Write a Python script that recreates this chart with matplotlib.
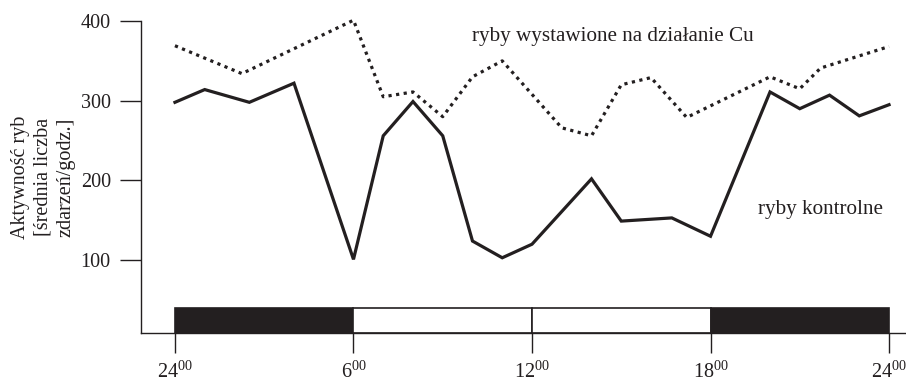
import matplotlib
matplotlib.use('Agg')
import matplotlib.pyplot as plt

plt.rcParams['font.family'] = ['Liberation Serif', 'DejaVu Serif']
plt.rcParams['mathtext.fontset'] = 'custom'
plt.rcParams['mathtext.rm'] = 'Liberation Serif'
plt.rcParams['mathtext.default'] = 'regular'

# godziny i aktywność (średnia liczba zdarzeń/godz.)
control_hours = [0, 1, 2.5, 4, 6, 7, 8, 9, 10, 11, 12, 14, 15, 16.7, 18, 20, 21, 22, 23, 24]
control_values = [298, 314, 298, 322, 101, 256, 299, 256, 124, 103, 120, 202, 149, 153, 130, 311, 290, 307, 281, 295]

cu_hours = [0, 2.25, 6, 7, 8, 9, 10, 11, 13, 14, 15, 16, 17.2, 20, 21, 21.7, 24]
cu_values = [369, 334, 401, 305, 311, 280, 330, 350, 266, 256, 320, 329, 279, 330, 315, 341, 368]

# pasek noc / dzień
period_starts = [0, 6, 12, 18]
period_lengths = [6, 6, 6, 6]
period_colors = ['#231f20', 'white', 'white', '#231f20']

x_ticks = [0, 6, 12, 18, 24]
x_labels = ['24$^{00}$', '6$^{00}$', '12$^{00}$', '18$^{00}$', '24$^{00}$']
y_ticks = [100, 200, 300, 400]

ink = '#231f20'
y_bottom = 8.5
bar_top = 40

fig = plt.figure(figsize=(9.06, 3.82), dpi=100)
ax = fig.add_axes([0.156, 0.128, 0.844, 0.817])

ax.plot(control_hours, control_values, color=ink, lw=2.3, solid_joinstyle='miter', clip_on=False)
ax.plot(cu_hours, cu_values, color=ink, lw=2.3, linestyle=(0, (1, 1.4)),
        dash_capstyle='butt', clip_on=False)

ax.bar(period_starts, [bar_top - y_bottom] * 4, width=period_lengths, bottom=y_bottom,
       align='edge', color=period_colors, edgecolor=ink, linewidth=1.2)

ax.text(10.0, 380, 'ryby wystawione na działanie Cu', fontsize=15.2, color=ink, va='center')
ax.text(19.6, 164, 'ryby kontrolne', fontsize=15.2, color=ink, va='center')

ax.set_xlim(-1.13, 24.57)
ax.set_ylim(y_bottom, 400)
ax.set_xticks(x_ticks)
ax.set_xticklabels(x_labels)
ax.set_yticks(y_ticks)

ax.spines['top'].set_visible(False)
ax.spines['right'].set_visible(False)
for s in ['left', 'bottom']:
    ax.spines[s].set_linewidth(1.0)
    ax.spines[s].set_color(ink)

ax.tick_params(axis='y', direction='out', length=15, width=1.0, pad=7,
               labelsize=14.5, colors=ink)
ax.tick_params(axis='x', direction='out', length=14.5, width=1.0, pad=6,
               labelsize=14.5, colors=ink)

ax.set_ylabel('Aktywność ryb\n[średnia liczba\nzdarzeń/godz.]', fontsize=14.5,
              color=ink, linespacing=1.25, labelpad=4)

fig.savefig('out.png', dpi=100)
